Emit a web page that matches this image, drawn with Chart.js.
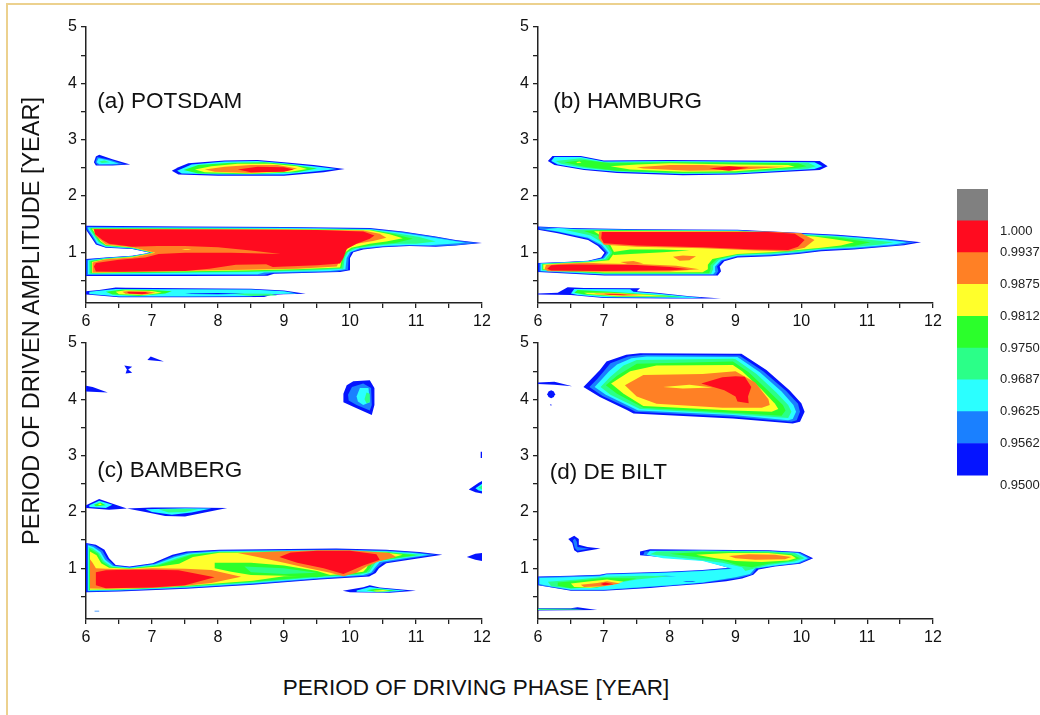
<!DOCTYPE html>
<html><head><meta charset="utf-8">
<script src="https://cdn.jsdelivr.net/npm/chart.js@4.4.1/dist/chart.umd.min.js"></script>
<style>
body{margin:0;background:#fff;width:1040px;height:715px;overflow:hidden;position:relative;font-family:"Liberation Sans",Arial,sans-serif;}
.frame{position:absolute;left:6px;top:3px;width:1100px;height:800px;border-left:2px solid #ecd18e;border-top:2px solid #ecd18e;}
canvas{position:absolute;}
#xt{position:absolute;left:0;width:952px;top:675px;line-height:26px;text-align:center;font-size:22.5px;color:#111;}
#yt{position:absolute;left:-219px;width:500px;top:308px;line-height:26px;text-align:center;font-size:23.5px;color:#111;transform:rotate(-90deg);transform-origin:50% 50%;}
</style></head>
<body>
<div class="frame"></div>
<canvas id="pa" width="500" height="345" style="left:0;top:0"></canvas>
<canvas id="pb" width="500" height="345" style="left:450px;top:0"></canvas>
<canvas id="pc" width="500" height="345" style="left:0;top:316px"></canvas>
<canvas id="pd" width="500" height="345" style="left:450px;top:316px"></canvas>
<canvas id="cb" width="95" height="330" style="left:945px;top:170px"></canvas>
<div id="xt">PERIOD OF DRIVING PHASE [YEAR]</div>
<div id="yt">PERIOD OF DRIVEN AMPLITUDE [YEAR]</div>
<script>
// ---- level colours (0.9500 ... 1.000 bands) ----
const levelColors = ['#0514ff','#1a80ff','#2bffff','#2bff88','#2bff2b','#ffff2b','#ff8025','#ff0b1f'];
const overColor = '#808080';
const cbLabels = ['0.9500','0.9562','0.9625','0.9687','0.9750','0.9812','0.9875','0.9937','1.000'];
const cbLabelPos = [-0.31,1,2,3,4,5,6,7,7.67];

// ---- axis ticks ----
const xTicks = [6,7,8,9,10,11,12];
const xMinor = [6.5,7.5,8.5,9.5,10.5,11.5];
const yTicks = [1,2,3,4,5];
const yMinor = [0.5,1.5,2.5,3.5,4.5];
const panelNames = ['(a) POTSDAM','(b) HAMBURG','(c) BAMBERG','(d) DE BILT'];
const nameX = [6.17,6.23,6.17,6.18];
const nameY = [3.67,3.68,2.73,2.69];

// ---- contour regions: [level, [x,y, x,y, ...]] drawn in order ----
const potsdam = [
 [0,[6,1.47,7.5,1.46,9,1.45,10.3,1.43,10.8,1.37,11.3,1.28,11.6,1.22,12,1.165,11.6,1.12,11.3,1.10,10.9,1.11,10.5,1.09,10.2,1.05,10.05,1.0,10.0,0.9,10.0,0.68,9.85,0.65,8.85,0.62,8.75,0.585,7.5,0.58,6,0.58,6,0.88,6.3,0.91,6.7,0.94,6.97,0.99,6.7,1.06,6.3,1.08,6.15,1.14,6.06,1.3,6,1.4]],
 [1,[6.01,1.455,9,1.44,10.3,1.42,10.8,1.36,11.3,1.27,11.6,1.21,11.93,1.165,11.6,1.125,11.3,1.11,10.9,1.12,10.5,1.10,10.17,1.06,10.02,1.0,9.98,0.9,9.97,0.69,9.8,0.66,8.8,0.63,8.7,0.595,6.01,0.595,6.01,0.87,6.3,0.905,6.7,0.935,6.99,0.99,6.7,1.065,6.3,1.09,6.16,1.15,6.08,1.3,6.02,1.4]],
 [2,[6.03,1.44,9,1.43,10.3,1.41,10.75,1.35,11.2,1.27,11.75,1.17,11.2,1.125,10.85,1.13,10.5,1.11,10.15,1.07,10.0,1.0,9.95,0.9,9.93,0.70,9.7,0.67,8.7,0.64,8.6,0.61,6.03,0.61,6.03,0.86,6.3,0.895,6.7,0.93,7.0,0.99,6.7,1.07,6.3,1.1,6.17,1.16,6.1,1.3,6.04,1.4]],
 [3,[6.05,1.43,9,1.42,10.3,1.40,10.7,1.34,11.05,1.27,11.3,1.19,11.0,1.15,10.7,1.15,10.4,1.12,10.1,1.07,9.97,1.0,9.92,0.9,9.9,0.71,9.5,0.68,8.5,0.65,6.05,0.62,6.05,0.85,6.3,0.89,6.7,0.925,7.01,0.99,6.7,1.075,6.3,1.11,6.19,1.18,6.12,1.3,6.06,1.4]],
 [4,[6.07,1.425,9,1.415,10.3,1.395,10.65,1.33,10.95,1.24,10.7,1.17,10.35,1.13,10.05,1.07,9.95,1.0,9.9,0.9,9.87,0.72,9.3,0.69,8.4,0.66,6.07,0.63,6.07,0.84,6.3,0.885,6.7,0.92,7.02,0.99,6.7,1.08,6.3,1.12,6.2,1.19,6.14,1.3,6.08,1.4]],
 [5,[6.09,1.42,9,1.41,10.3,1.39,10.6,1.32,10.8,1.25,10.55,1.19,10.3,1.15,10.02,1.08,9.93,1.0,9.88,0.9,9.85,0.73,9.2,0.7,8.4,0.675,6.09,0.635,6.09,0.83,6.3,0.88,6.7,0.915,7.03,0.99,6.7,1.085,6.3,1.13,6.22,1.2,6.16,1.3,6.1,1.4]],
 [6,[6.1,1.415,9,1.405,10.2,1.385,10.45,1.33,10.55,1.26,10.35,1.2,10.1,1.15,9.97,1.08,9.92,1.0,9.86,0.9,9.8,0.75,9.2,0.71,8.4,0.69,6.1,0.64,6.1,0.82,6.3,0.875,6.7,0.91,7.05,0.99,6.7,1.09,6.3,1.14,6.23,1.21,6.14,1.3,6.12,1.4]],
 [7,[6.12,1.41,8,1.405,9.5,1.395,10.2,1.37,10.37,1.3,10.3,1.24,10.1,1.15,9.95,1.06,9.9,0.9,9.85,0.8,9.5,0.77,8.83,0.74,8.73,0.79,8.27,0.78,7.87,0.71,7.5,0.67,6.5,0.655,6.15,0.66,6.12,0.75,6.15,0.81,6.5,0.87,6.9,0.91,7.1,0.97,7.5,0.99,8.2,0.99,8.95,0.97,8.5,1.03,8.0,1.09,7.5,1.11,7.08,1.11,6.7,1.1,6.35,1.15,6.25,1.22,6.14,1.32]],
 [5,[7.45,1.055,7.55,1.06,7.6,1.05,7.5,1.045]],
 [0,[6,0.31,6.2,0.33,6.45,0.375,6.6,0.37,7.5,0.36,8.5,0.355,9.0,0.32,9.33,0.265,9.0,0.255,8.8,0.24,8.7,0.205,7.5,0.2,6.5,0.2,6.1,0.24,6,0.25]],
 [2,[6.05,0.3,6.45,0.35,7.5,0.345,8.5,0.34,9.0,0.31,9.2,0.27,8.8,0.255,8.5,0.22,7.5,0.215,6.5,0.215,6.05,0.26]],
 [3,[8.2,0.27,8.8,0.265,8.9,0.235,8.5,0.225]],
 [0,[7.5,0.27,8.0,0.278,8.4,0.265,8.0,0.255,7.6,0.258]],
 [4,[6.3,0.3,6.55,0.34,7.0,0.33,7.3,0.31,7.2,0.27,6.8,0.225,6.4,0.25]],
 [5,[6.45,0.3,6.6,0.325,7.0,0.315,7.15,0.28,6.9,0.24,6.5,0.255]],
 [6,[6.55,0.3,6.65,0.315,6.95,0.305,7.05,0.28,6.9,0.25,6.6,0.265]],
 [7,[6.62,0.295,6.9,0.295,6.95,0.275,6.85,0.255,6.65,0.27]],
 [0,[6.12,2.6,6.15,2.7,6.2,2.73,6.4,2.65,6.67,2.56,6.4,2.54,6.15,2.54]],
 [1,[6.14,2.6,6.17,2.69,6.38,2.64,6.58,2.565,6.38,2.55,6.17,2.555]],
 [2,[6.16,2.6,6.19,2.67,6.35,2.63,6.5,2.57,6.2,2.565]],
 [3,[6.2,2.61,6.28,2.63,6.36,2.6,6.24,2.585]],
 [0,[7.3,2.45,7.4,2.51,7.55,2.58,8.1,2.63,8.6,2.64,9.0,2.6,9.45,2.55,9.92,2.48,9.6,2.42,9.0,2.36,8.0,2.36,7.4,2.38]],
 [2,[7.38,2.45,7.6,2.56,8.1,2.61,8.6,2.62,9.0,2.58,9.45,2.53,9.8,2.48,9.5,2.44,9.0,2.38,8.0,2.38,7.45,2.4]],
 [4,[7.48,2.46,7.7,2.55,8.2,2.59,8.7,2.6,9.1,2.56,9.5,2.49,9.2,2.42,8.5,2.39,7.7,2.4]],
 [5,[7.65,2.47,7.9,2.53,8.3,2.57,8.8,2.57,9.2,2.53,9.35,2.48,9.1,2.43,8.5,2.4,7.8,2.42]],
 [6,[7.8,2.47,8.1,2.52,8.5,2.55,8.9,2.55,9.2,2.49,9.0,2.44,8.5,2.41,7.95,2.43]],
 [7,[8.3,2.47,8.6,2.52,9.0,2.51,9.15,2.47,9.0,2.43,8.5,2.42]]
];

const hamburg = [
 [0,[6,1.40,6.3,1.34,6.76,1.22,6.91,1.11,7.01,0.99,6.96,0.91,6.76,0.85,6.4,0.83,6,0.81,6,0.652,7.01,0.587,8.73,0.587,8.78,0.664,8.76,0.75,8.83,0.84,9.03,0.91,9.54,0.93,9.95,0.97,10.3,1.02,10.8,1.05,11.56,1.124,11.82,1.18,11.31,1.24,10.55,1.31,9.03,1.40,7.52,1.41,6.5,1.43,6,1.46]],
 [1,[6.02,1.41,6.3,1.36,6.76,1.24,6.94,1.12,7.04,0.99,6.98,0.9,6.76,0.845,6.4,0.825,6.02,0.805,6.02,0.66,7.01,0.6,8.7,0.6,8.74,0.664,8.72,0.75,8.8,0.85,9.03,0.925,9.54,0.945,9.95,0.985,10.3,1.035,10.8,1.065,11.5,1.13,11.72,1.18,11.3,1.23,10.55,1.30,9.03,1.39,7.52,1.40,6.5,1.42,6.02,1.45]],
 [2,[6.1,1.41,6.3,1.37,6.76,1.26,6.97,1.13,7.07,0.99,7.0,0.89,6.76,0.84,6.4,0.82,6.04,0.80,6.04,0.67,7.01,0.61,8.66,0.61,8.7,0.664,8.69,0.75,8.78,0.86,9.03,0.94,9.54,0.96,9.95,1.0,10.3,1.05,10.8,1.08,11.4,1.14,11.6,1.18,11.25,1.225,10.55,1.29,9.03,1.385,7.52,1.395,6.6,1.41,6.3,1.43]],
 [3,[6.4,1.4,6.8,1.3,7.0,1.15,7.1,0.99,7.02,0.88,6.76,0.835,6.4,0.815,6.06,0.795,6.06,0.68,7.01,0.62,8.63,0.62,8.66,0.7,8.66,0.76,8.75,0.87,9.03,0.95,9.54,0.975,9.95,1.01,10.3,1.06,10.8,1.095,11.2,1.14,11.4,1.18,11.1,1.215,10.55,1.28,9.03,1.38,7.52,1.39,6.8,1.4]],
 [4,[6.7,1.38,6.9,1.3,7.05,1.16,7.13,0.99,7.05,0.87,6.76,0.83,6.4,0.81,6.07,0.79,6.07,0.69,7.01,0.63,8.6,0.63,8.62,0.7,8.62,0.77,8.72,0.88,9.03,0.96,9.54,0.99,9.95,1.03,10.3,1.07,10.8,1.11,11.05,1.18,10.8,1.22,10.55,1.265,9.03,1.375,7.52,1.385,6.9,1.39]],
 [5,[6.85,1.375,6.95,1.3,7.08,1.17,7.16,0.99,7.08,0.86,6.76,0.825,6.4,0.805,6.08,0.785,6.08,0.7,7.01,0.64,8.5,0.645,8.58,0.7,8.58,0.78,8.65,0.88,9.03,0.97,9.54,1.0,9.95,1.04,10.3,1.08,10.6,1.12,10.8,1.18,10.5,1.23,10.2,1.28,9.03,1.37,7.52,1.378]],
 [4,[7.12,1.0,7.4,1.05,7.9,1.05,8.3,1.03,7.9,1.0,7.4,0.97,7.15,0.95]],
 [6,[6.93,1.37,9.5,1.368,10.0,1.34,10.2,1.22,10.05,1.08,9.8,1.02,9.3,1.03,8.5,1.07,7.5,1.1,7.0,1.135,6.92,1.25]],
 [6,[8.05,0.92,8.2,0.945,8.4,0.93,8.3,0.86,8.15,0.85]],
 [6,[7.25,0.83,7.45,0.845,7.6,0.8,7.4,0.78]],
 [6,[6.1,0.7,6.12,0.775,6.4,0.8,6.76,0.815,7.0,0.8,7.6,0.79,8.1,0.76,8.45,0.7,8.0,0.66,7.0,0.655,6.15,0.665]],
 [7,[6.97,1.36,9.5,1.36,9.9,1.33,10.05,1.22,9.95,1.1,9.8,1.04,9.3,1.05,8.5,1.09,7.5,1.12,7.0,1.16,6.96,1.25]],
 [7,[6.14,0.71,6.2,0.77,6.5,0.785,7.0,0.78,7.5,0.775,8.0,0.74,8.3,0.7,8.0,0.68,7.0,0.67,6.2,0.675]],
 [0,[6,0.27,6.3,0.28,6.45,0.38,6.7,0.365,7.55,0.36,7.5,0.31,7.8,0.28,8.3,0.22,8.78,0.18,8.0,0.18,7.0,0.19,6.5,0.24,6,0.25]],
 [2,[6.5,0.27,6.55,0.35,7.4,0.345,7.45,0.3,7.8,0.27,8.3,0.21,8.5,0.19,7.0,0.2,6.6,0.24]],
 [4,[6.55,0.28,6.6,0.33,7.1,0.3,7.6,0.26,8.2,0.21,7.2,0.21,6.7,0.25]],
 [5,[6.7,0.28,7.1,0.28,7.6,0.25,8.0,0.22,7.2,0.22,6.75,0.26]],
 [6,[6.85,0.27,7.2,0.27,7.6,0.24,7.3,0.23,6.9,0.255]],
 [7,[7.0,0.265,7.25,0.26,7.35,0.245,7.1,0.248]],
 [0,[6.15,2.62,6.22,2.71,6.65,2.71,7.0,2.63,8.0,2.64,9.0,2.63,10.28,2.62,10.4,2.53,10.28,2.46,9.0,2.38,8.2,2.37,7.2,2.41,6.7,2.46,6.25,2.55]],
 [2,[6.2,2.62,6.25,2.69,6.65,2.69,7.0,2.61,8.0,2.62,9.0,2.61,10.2,2.6,10.32,2.53,10.2,2.48,9.0,2.4,8.2,2.39,7.2,2.43,6.7,2.48,6.3,2.56]],
 [3,[6.27,2.62,6.65,2.67,7.0,2.6,8,2.61,9,2.6,10.1,2.59,10.22,2.53,10.1,2.49,9,2.41,8.2,2.4,7.2,2.44,6.7,2.5,6.35,2.57]],
 [4,[6.4,2.6,6.7,2.64,7.1,2.58,8,2.6,9,2.59,9.95,2.58,10.08,2.53,9.95,2.5,9,2.42,8.2,2.41,7.2,2.45,6.7,2.52]],
 [5,[6.58,2.6,6.63,2.61,6.66,2.59,6.6,2.585]],
 [5,[7.1,2.53,7.5,2.56,8.0,2.58,9.0,2.56,9.8,2.55,9.9,2.52,9.7,2.5,9.0,2.44,8.2,2.43,7.4,2.47]],
 [6,[7.5,2.51,8.0,2.55,8.5,2.55,9.0,2.53,9.75,2.52,9.0,2.46,8.3,2.45,7.6,2.49]],
 [7,[8.6,2.49,8.9,2.53,9.2,2.5,8.9,2.45]]
];

const bamberg = [
 [0,[6,1.45,6.15,1.42,6.28,1.33,6.35,1.18,6.45,1.06,6.66,1.03,7.01,1.09,7.31,1.24,7.52,1.3,8.02,1.33,9.79,1.35,10.55,1.33,11.05,1.29,11.4,1.24,11.05,1.18,10.55,1.09,10.44,1.0,10.39,0.915,10.29,0.855,9.54,0.8,8.53,0.706,7.52,0.635,6.5,0.587,6,0.575]],
 [1,[6.02,1.43,6.13,1.4,6.25,1.31,6.32,1.17,6.43,1.05,6.66,1.02,7.03,1.08,7.33,1.22,7.54,1.28,8.02,1.315,9.79,1.335,10.55,1.315,11.0,1.28,11.3,1.24,11.0,1.19,10.5,1.1,10.4,1.0,10.35,0.92,10.25,0.87,9.54,0.815,8.53,0.72,7.52,0.65,6.5,0.6,6.02,0.59]],
 [2,[6.03,1.41,6.11,1.38,6.22,1.29,6.29,1.15,6.41,1.04,6.66,1.01,7.05,1.07,7.35,1.2,7.56,1.265,8.02,1.305,9.79,1.325,10.55,1.305,10.95,1.27,11.2,1.24,10.95,1.2,10.45,1.11,10.37,1.0,10.32,0.925,10.2,0.88,9.54,0.83,8.53,0.735,7.52,0.66,6.5,0.61,6.03,0.6]],
 [3,[6.04,1.38,6.1,1.35,6.2,1.27,6.27,1.13,6.39,1.03,6.66,1.0,7.07,1.06,7.37,1.18,7.58,1.25,8.02,1.295,9.79,1.315,10.55,1.295,10.9,1.26,11.1,1.24,10.9,1.205,10.4,1.12,10.33,1.0,10.29,0.93,10.15,0.89,9.54,0.845,8.53,0.75,7.52,0.67,6.5,0.62,6.04,0.61]],
 [4,[6.05,1.35,6.18,1.26,6.25,1.11,6.37,1.02,6.66,0.995,7.09,1.05,7.39,1.16,7.6,1.24,8.02,1.285,9.79,1.305,10.55,1.285,10.85,1.25,11.0,1.235,10.8,1.2,10.35,1.12,10.3,1.0,10.25,0.93,10.1,0.9,9.54,0.86,8.53,0.76,7.52,0.68,6.5,0.625,6.05,0.615]],
 [5,[6.06,1.3,6.16,1.23,6.23,1.09,6.35,1.01,6.66,0.99,7.11,1.03,7.41,1.08,7.62,1.2,8.02,1.275,9.79,1.295,10.55,1.275,10.8,1.24,10.6,1.18,10.3,1.12,10.25,1.0,10.2,0.94,10.0,0.91,9.54,0.87,9.0,0.86,8.53,0.78,7.52,0.69,6.5,0.63,6.06,0.62]],
 [4,[7.95,1.1,8.5,1.1,9.0,1.05,9.5,0.95,9.7,0.88,9.5,0.84,9.0,0.87,8.5,0.88,8.2,0.94,7.95,1.0]],
 [3,[8.4,1.03,9.0,1.0,9.5,0.92,9.0,0.9,8.5,0.93]],
 [6,[8.3,1.27,8.9,1.3,9.5,1.32,10.0,1.32,10.6,1.27,10.7,1.2,10.45,1.13,10.25,1.03,10.1,0.92,9.9,0.86,9.7,0.92,9.3,1.02,9.0,1.1,8.6,1.2]],
 [6,[6.06,1.16,6.1,1.1,6.15,1.0,6.3,0.99,6.66,0.985,7.0,1.0,7.5,0.99,7.9,0.97,8.35,0.85,7.9,0.74,7.5,0.69,7.0,0.65,6.3,0.635,6.06,0.64,6.06,0.9]],
 [7,[8.93,1.2,9.1,1.28,9.5,1.31,10.0,1.31,10.4,1.25,10.45,1.15,10.2,1.05,9.9,0.9,9.6,1.0,9.2,1.1]],
 [7,[6.15,0.93,6.3,0.965,6.66,0.975,7.0,0.975,7.4,0.965,7.95,0.84,7.5,0.7,7.0,0.66,6.3,0.645,6.15,0.7]],
 [0,[9.89,0.6,10.2,0.665,10.3,0.7,10.45,0.66,11.0,0.6,10.6,0.565,10.0,0.575]],
 [2,[10.1,0.605,10.3,0.67,10.45,0.645,10.85,0.6,10.5,0.575,10.1,0.585]],
 [4,[10.25,0.61,10.4,0.635,10.7,0.6,10.4,0.585]],
 [5,[10.35,0.6,10.5,0.615,10.6,0.595,10.4,0.59]],
 [0,[6,2.12,6.2,2.23,6.35,2.17,6.62,2.06,6.35,2.04,6.0,2.07]],
 [2,[6.05,2.12,6.2,2.2,6.4,2.13,6.3,2.07,6.05,2.09]],
 [4,[6.12,2.13,6.22,2.17,6.3,2.12,6.15,2.1]],
 [5,[6.18,2.14,6.22,2.15,6.24,2.13,6.2,2.125]],
 [0,[6.62,2.06,7.0,2.08,7.5,2.08,8.14,2.07,7.8,1.99,7.5,1.92,7.2,1.93,6.9,2.0]],
 [2,[6.9,2.05,7.5,2.065,7.9,2.06,7.6,1.99,7.3,1.95,7.0,2.0]],
 [3,[7.1,2.05,7.5,2.055,7.7,2.05,7.5,2.0,7.25,1.99]],
 [0,[9.9,4.1,9.95,4.25,10.05,4.32,10.3,4.34,10.37,4.2,10.37,3.9,10.33,3.72,10.1,3.84,9.9,3.95]],
 [1,[9.97,4.08,10.03,4.22,10.2,4.28,10.32,4.2,10.33,3.9,10.3,3.8,10.1,3.9,9.98,3.98]],
 [2,[10.1,4.05,10.15,4.2,10.28,4.2,10.3,3.95,10.2,3.9,10.12,3.96]],
 [3,[10.22,4.0,10.25,4.12,10.3,4.1,10.3,3.95,10.25,3.93]],
 [0,[6,4.24,6.1,4.22,6.33,4.12,6.0,4.14]],
 [0,[6.58,4.6,6.7,4.58,6.64,4.53,6.7,4.47,6.6,4.46,6.62,4.53]],
 [0,[6.93,4.7,6.98,4.76,7.18,4.67]],
 [0,[11.8,2.4,11.95,2.52,12,2.55,12,2.33,11.9,2.35]],
 [2,[11.9,2.42,12,2.5,12,2.37,11.95,2.38]],
 [3,[11.95,2.43,12,2.47,12,2.4]],
 [0,[11.98,3.07,12,3.07,12,2.96,11.98,2.96]],
 [0,[11.77,1.2,11.9,1.26,12,1.27,12,1.13,11.9,1.15]],
 [1,[6.13,0.245,6.2,0.245,6.2,0.235,6.13,0.235]]
];

const deBilt = [
 [0,[6.69,4.22,6.79,4.34,6.94,4.52,7.04,4.67,7.34,4.79,7.55,4.82,8.96,4.81,9.09,4.81,9.47,4.52,9.82,4.16,10.0,3.93,10.05,3.78,9.98,3.6,9.87,3.57,8.96,3.66,7.45,3.75,7.35,3.81,6.94,4.04]],
 [1,[6.78,4.22,6.9,4.36,7.0,4.5,7.1,4.64,7.37,4.76,7.6,4.79,8.96,4.78,9.06,4.78,9.42,4.5,9.77,4.15,9.95,3.92,9.98,3.78,9.93,3.63,9.85,3.6,8.96,3.69,7.48,3.78,7.38,3.84,6.98,4.06]],
 [2,[6.86,4.22,6.98,4.37,7.08,4.5,7.2,4.62,7.42,4.73,7.65,4.76,8.96,4.75,9.03,4.75,9.37,4.48,9.7,4.14,9.88,3.9,9.92,3.78,9.87,3.65,9.8,3.63,8.96,3.72,7.52,3.8,7.42,3.86,7.03,4.08]],
 [3,[6.95,4.22,7.1,4.4,7.3,4.6,7.5,4.7,8.96,4.72,9.0,4.71,9.32,4.45,9.62,4.12,9.8,3.9,9.85,3.78,9.8,3.67,8.96,3.74,7.55,3.83,7.1,4.08]],
 [4,[7.03,4.25,7.2,4.42,7.5,4.63,8.96,4.67,9.2,4.48,9.5,4.15,9.72,3.9,9.76,3.8,9.7,3.71,8.96,3.76,7.6,3.85,7.2,4.1]],
 [5,[7.11,4.28,7.4,4.5,7.8,4.6,8.96,4.61,9.1,4.5,9.4,4.17,9.6,3.92,9.65,3.83,9.55,3.78,8.96,3.8,7.6,3.88,7.3,4.1]],
 [6,[7.32,4.25,7.6,4.43,8.5,4.45,9.0,4.5,9.3,4.3,9.5,4.0,9.52,3.9,9.4,3.85,8.8,3.85,7.8,3.92,7.5,4.05]],
 [5,[7.9,4.22,8.3,4.26,8.65,4.21,8.2,4.19]],
 [7,[8.48,4.28,8.8,4.39,9.0,4.41,9.14,4.4,9.24,4.22,9.19,4.05,9.2,3.93,9.03,3.96,9.0,4.05,8.83,4.16]],
 [0,[6,4.3,6.25,4.31,6.52,4.23,6.25,4.26,6,4.27]],
 [0,[6.14,4.09,6.16,4.14,6.2,4.16,6.24,4.14,6.26,4.09,6.24,4.04,6.2,4.02,6.16,4.04]],
 [0,[6.18,3.9,6.2,3.915,6.21,3.9,6.2,3.885]],
 [0,[6.46,1.52,6.55,1.58,6.62,1.52,6.62,1.42,6.75,1.38,6.95,1.35,6.75,1.31,6.6,1.28,6.55,1.32,6.52,1.45]],
 [1,[6.53,1.5,6.56,1.53,6.59,1.47,6.6,1.38,6.78,1.345,6.6,1.31,6.56,1.36]],
 [0,[6,0.855,6.5,0.87,6.94,0.885,7.04,0.91,7.95,0.94,8.5,0.97,8.9,1.01,8.5,1.15,7.9,1.2,7.55,1.23,7.55,1.3,7.7,1.34,8.5,1.33,9.5,1.32,9.98,1.29,10.18,1.18,9.98,1.08,9.6,1.03,9.35,0.98,9.27,0.885,9.1,0.82,8.86,0.77,8.46,0.72,8.0,0.68,7.7,0.65,7.0,0.6,6.5,0.6,6.1,0.68,6,0.7]],
 [1,[6.01,0.845,6.94,0.875,7.04,0.9,7.95,0.93,8.5,0.96,8.92,1.0,8.5,1.14,7.9,1.19,7.6,1.235,7.62,1.3,8.5,1.32,9.5,1.31,9.97,1.28,10.14,1.18,9.97,1.09,9.6,1.04,9.32,0.99,9.25,0.89,9.05,0.83,8.5,0.74,8.0,0.69,7.0,0.61,6.5,0.61,6.05,0.69,6.01,0.71]],
 [2,[6.02,0.83,6.94,0.86,7.04,0.89,7.95,0.92,8.5,0.95,8.95,0.99,8.5,1.13,7.9,1.18,7.65,1.24,7.7,1.31,8.5,1.31,9.5,1.3,9.95,1.27,10.1,1.18,9.95,1.1,9.6,1.05,9.3,1.0,9.22,0.9,9.0,0.84,8.5,0.75,8.0,0.7,7.0,0.62,6.5,0.62,6.1,0.7,6.02,0.72]],
 [1,[7.6,0.86,7.95,0.87,8.1,0.86,7.7,0.85]],
 [0,[8.2,0.77,8.35,0.775,8.4,0.765,8.25,0.76]],
 [3,[6.15,0.76,6.6,0.8,7.0,0.85,7.6,0.87,8.0,0.86,7.5,0.8,7.0,0.7,6.5,0.64,6.2,0.68]],
 [4,[6.3,0.75,6.7,0.79,7.0,0.83,7.5,0.82,7.2,0.75,6.9,0.66,6.5,0.645,6.3,0.69]],
 [5,[6.5,0.73,6.8,0.77,7.05,0.8,7.3,0.76,7.1,0.7,6.8,0.655,6.55,0.67]],
 [6,[6.65,0.71,6.9,0.74,7.05,0.77,7.25,0.73,7.0,0.68,6.7,0.67]],
 [7,[6.95,0.72,7.02,0.75,7.15,0.715,7.0,0.7]],
 [3,[7.7,1.25,7.8,1.3,8.5,1.31,9.5,1.3,9.9,1.27,10.05,1.18,9.9,1.12,9.5,1.06,9.3,1.0,9.15,0.95,9.1,1.02,8.8,1.1,8.3,1.17,8.0,1.21]],
 [4,[8.0,1.26,8.5,1.29,9.5,1.28,9.85,1.25,9.98,1.18,9.85,1.13,9.5,1.08,9.25,1.02,9.05,1.05,8.8,1.14,8.4,1.2]],
 [5,[8.4,1.24,8.9,1.27,9.5,1.27,9.85,1.23,9.92,1.18,9.8,1.14,9.4,1.11,9.0,1.13,8.7,1.18]],
 [6,[8.9,1.22,9.2,1.25,9.6,1.24,9.85,1.2,9.75,1.16,9.3,1.15,9.0,1.18]],
 [0,[6,0.29,6.5,0.29,6.6,0.31,6.9,0.26,6,0.25]],
 [3,[6,0.28,6.55,0.28,6.7,0.27,6,0.26]]
];

Chart.defaults.font.family = '"Liberation Sans", Arial, sans-serif';

const allX = [...xTicks, ...xMinor].sort((a,b)=>a-b);
const allY = [...yMinor, ...yTicks].sort((a,b)=>a-b);

const panelLabel = {
  id:'panelLabel',
  afterDatasetsDraw(chart, args, opts){
    const {ctx, scales:{x,y}} = chart;
    ctx.save();
    ctx.font = '22.5px "Liberation Sans", Arial, sans-serif';
    ctx.fillStyle = '#111';
    ctx.textBaseline = 'middle';
    ctx.textAlign = 'left';
    ctx.fillText(opts.text, x.getPixelForValue(opts.x), y.getPixelForValue(opts.y));
    ctx.restore();
  }
};

function makePanel(id, regions, idx, axisW, padRight){
  const datasets = regions.map((r,i)=>{
    const pts = [];
    for(let k=0;k<r[1].length;k+=2) pts.push({x:r[1][k], y:r[1][k+1]});
    return {data:pts, backgroundColor:levelColors[r[0]], borderColor:'rgba(0,0,0,0)', borderWidth:0,
            pointRadius:0, pointHoverRadius:0, fill:'shape', tension:0, showLine:true, order:-i};
  });
  const axisCommon = {
    grid:{drawOnChartArea:false, drawTicks:true, tickLength:5, color:'#222', lineWidth:1.3},
    border:{display:true, color:'#222', width:1.5}
  };
  new Chart(document.getElementById(id), {
    type:'line',
    data:{datasets},
    options:{
      responsive:false, animation:false, events:[],
      layout:{padding:{left:0, top:27, right:padRight, bottom:0}},
      plugins:{legend:{display:false}, tooltip:{enabled:false},
        panelLabel:{text:panelNames[idx], x:nameX[idx], y:nameY[idx]}},
      scales:{
        x:{type:'linear', min:6, max:12, ...axisCommon,
          afterBuildTicks:s=>{s.ticks = allX.map(v=>({value:v}));},
          afterFit:s=>{s.height = 42;},
          ticks:{autoSkip:false, maxRotation:0, padding:4, color:'#111', font:{size:16},
            callback:v=> xTicks.includes(v) ? String(v) : ''}},
        y:{type:'linear', min:0.1, max:5, ...axisCommon,
          afterBuildTicks:s=>{s.ticks = allY.map(v=>({value:v}));},
          afterFit:s=>{s.width = axisW;},
          ticks:{autoSkip:false, padding:4, color:'#111', font:{size:16},
            callback:v=> yTicks.includes(v) ? String(v) : ''}}
      }
    },
    plugins:[panelLabel]
  });
}

makePanel('pa', potsdam, 0, 86, 18);
makePanel('pb', hamburg, 1, 88, 17);
makePanel('pc', bamberg, 2, 86, 18);
makePanel('pd', deBilt, 3, 88, 17);

// colour bar
const cbColors = [...levelColors, overColor];
new Chart(document.getElementById('cb'), {
  type:'bar',
  data:{labels:[''], datasets: cbColors.map(c=>({data:[1], backgroundColor:c, borderWidth:0, barPercentage:1, categoryPercentage:1}))},
  options:{
    responsive:false, animation:false, events:[],
    layout:{padding:{left:12, top:19, right:0, bottom:12}},
    plugins:{legend:{display:false}, tooltip:{enabled:false}},
    scales:{
      x:{display:false, stacked:true},
      y:{stacked:true, position:'right', min:-0.4, max:9,
        afterBuildTicks:s=>{s.ticks = cbLabelPos.map(v=>({value:v}));},
        afterFit:s=>{s.width = 52;},
        ticks:{autoSkip:false, padding:4, color:'#222', font:{size:13}, callback:(v,i)=>cbLabels[i]},
        grid:{display:false}, border:{display:false}}
    }
  }
});
</script>
</body></html>
